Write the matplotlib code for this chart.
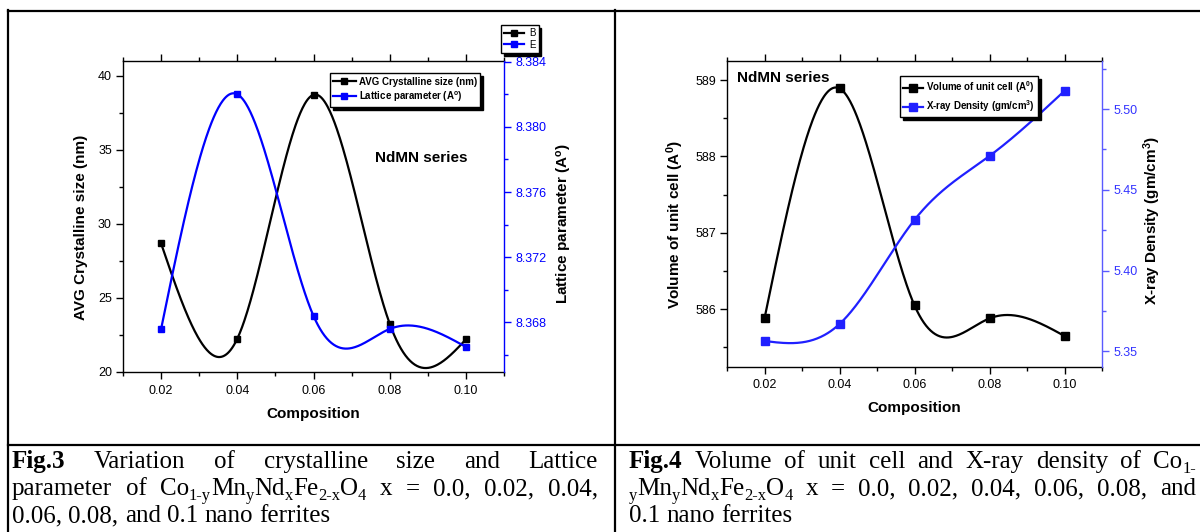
import numpy as np
import matplotlib
matplotlib.use('Agg')
import matplotlib.pyplot as plt
from matplotlib.lines import Line2D
from matplotlib.ticker import MultipleLocator, FormatStrFormatter, FixedLocator
from matplotlib.transforms import IdentityTransform

# ---------------- data ----------------
composition = [0.02, 0.04, 0.06, 0.08, 0.10]
xtick_labels = ['0.02', '0.04', '0.06', '0.08', '0.10']
crystallite_size = [28.68, 22.25, 38.72, 23.26, 22.20]        # nm
lattice_param = [8.3676, 8.3820, 8.3684, 8.3676, 8.3665]       # A
cell_volume = [585.88, 588.89, 586.05, 585.88, 585.65]         # A^3
xray_density = [5.3564, 5.3669, 5.4314, 5.4710, 5.5113]        # gm/cm3

plt.rcParams['font.family'] = 'Liberation Sans'
plt.rcParams['mathtext.fontset'] = 'custom'
plt.rcParams['mathtext.rm'] = 'Liberation Sans'
plt.rcParams['mathtext.bf'] = 'Liberation Sans:bold'
plt.rcParams['mathtext.it'] = 'Liberation Sans:italic'

W, H = 1200, 532
fig = plt.figure(figsize=(W / 100, H / 100), dpi=100)
fig.patch.set_facecolor('white')


def natural_spline(x, y, n=400):
    x = np.asarray(x, float)
    y = np.asarray(y, float)
    k = len(x)
    h = np.diff(x)
    A = np.zeros((k, k))
    r = np.zeros(k)
    A[0, 0] = A[-1, -1] = 1
    for i in range(1, k - 1):
        A[i, i - 1] = h[i - 1]
        A[i, i] = 2 * (h[i - 1] + h[i])
        A[i, i + 1] = h[i]
        r[i] = 6 * ((y[i + 1] - y[i]) / h[i] - (y[i] - y[i - 1]) / h[i - 1])
    M = np.linalg.solve(A, r)
    xs = np.linspace(x[0], x[-1], n)
    idx = np.clip(np.searchsorted(x, xs) - 1, 0, k - 2)
    x0, x1 = x[idx], x[idx + 1]
    hh = x1 - x0
    a = (x1 - xs) / hh
    b = (xs - x0) / hh
    ys = a * y[idx] + b * y[idx + 1] + ((a ** 3 - a) * M[idx] + (b ** 3 - b) * M[idx + 1]) * hh ** 2 / 6
    return xs, ys


def px_axes(x0, y0, x1, y1):
    return fig.add_axes([x0 / W, 1 - y1 / H, (x1 - x0) / W, (y1 - y0) / H])


def style_axes(ax, ax2, rcolor, rlabelcolor):
    for s in ['left', 'bottom', 'top']:
        ax.spines[s].set_linewidth(1.0)
        ax.spines[s].set_color('black')
    ax.spines['right'].set_visible(False)
    for s in ['left', 'bottom', 'top']:
        ax2.spines[s].set_visible(False)
    ax2.spines['right'].set_color(rcolor)
    ax2.spines['right'].set_linewidth(1.0)
    ax.set_xlim(0.01, 0.11)
    ax.xaxis.set_major_locator(FixedLocator(composition))
    ax.set_xticklabels(xtick_labels)
    ax.xaxis.set_minor_locator(MultipleLocator(0.01))
    ax.tick_params(axis='both', which='major', direction='out', length=5, width=1,
                   labelsize=9, pad=3, top=True, right=False)
    ax.tick_params(axis='both', which='minor', direction='out', length=3, width=1,
                   top=True, right=False)
    ax.tick_params(axis='x', which='both', pad=4)
    ax2.tick_params(axis='y', which='major', direction='out', length=5, width=1,
                    labelsize=9, pad=3, colors=rcolor, labelcolor=rlabelcolor)
    ax2.tick_params(axis='y', which='minor', direction='out', length=3, width=1, colors=rcolor)


lw = 1.6
blue1 = '#0000ff'

# ================= Left chart =================
ax = px_axes(123, 61, 504, 372)
ax2 = ax.twinx()
xs, ys = natural_spline(composition, crystallite_size)
ax.plot(xs, ys, color='black', lw=lw)
ax.plot(composition, crystallite_size, ls='none', marker='s', ms=5, color='black')
xs, ys = natural_spline(composition, lattice_param)
ax2.plot(xs, ys, color=blue1, lw=lw)
ax2.plot(composition, lattice_param, ls='none', marker='s', ms=5, color=blue1)

ax.set_ylim(20, 41.0)
ax.yaxis.set_major_locator(FixedLocator([20, 25, 30, 35, 40]))
ax.yaxis.set_minor_locator(MultipleLocator(2.5))
ax2.set_ylim(8.36496, 8.38404)
ax2.yaxis.set_major_locator(FixedLocator([8.368, 8.372, 8.376, 8.380, 8.384]))
ax2.yaxis.set_major_formatter(FormatStrFormatter('%.3f'))
ax2.yaxis.set_minor_locator(FixedLocator([8.366, 8.370, 8.374, 8.378, 8.382]))
style_axes(ax, ax2, blue1, blue1)

ax.set_xlabel('Composition', fontsize=11, fontweight='bold', va='center')
ax.xaxis.set_label_coords(0.5, -0.135)
ax.set_ylabel('AVG Crystalline size (nm)', fontsize=11, fontweight='bold', va='center')
ax.yaxis.set_label_coords(-0.11, 0.466)
ax2.set_ylabel(r'Lattice parameter (A$^{\mathbf{o}}$)', fontsize=11, fontweight='bold',
               va='center', rotation=90)
ax2.yaxis.set_label_coords(1.16, 0.476)

ax.text(0.782, 0.688, 'NdMN series', transform=ax.transAxes, fontsize=11,
        fontweight='bold', ha='center', va='center')

h_black = Line2D([], [], color='black', lw=lw, marker='s', ms=5)
h_blue = Line2D([], [], color=blue1, lw=lw, marker='s', ms=5)
shadow = {'color': 'black', 'alpha': 1}
leg = ax2.legend([h_black, h_blue],
                 ['AVG Crystalline size (nm)', r'Lattice parameter (A$^{\mathbf{o}}$)'],
                 loc='upper left', bbox_to_anchor=(0.543, 0.961), borderaxespad=0,
                 prop={'weight': 'bold', 'size': 7}, handlelength=2.3, handletextpad=0.3,
                 borderpad=0.35, labelspacing=0.3, fancybox=False, framealpha=1,
                 edgecolor='black', shadow=shadow)
leg.get_frame().set_linewidth(1.0)

leg2 = fig.legend([Line2D([], [], color='black', lw=lw, marker='s', ms=4),
                   Line2D([], [], color=blue1, lw=lw, marker='s', ms=4)], ['B', 'E'],
                  loc='upper left', bbox_to_anchor=(501 / W, 1 - 25 / H), borderaxespad=0,
                  prop={'size': 7}, handlelength=2.1, handletextpad=0.5, borderpad=0.3,
                  labelspacing=0.2, fancybox=False, framealpha=1, edgecolor='black',
                  shadow=shadow)
leg2.get_frame().set_linewidth(1.0)

# ================= Right chart =================
blue2 = '#2020ff'
rspine = '#5a5aff'
bx = px_axes(727, 61, 1102, 367)
bx2 = bx.twinx()
xs, ys = natural_spline(composition, cell_volume)
bx.plot(xs, ys, color='black', lw=lw)
bx.plot(composition, cell_volume, ls='none', marker='s', ms=6, color='black')
xs, ys = natural_spline(composition, xray_density)
bx2.plot(xs, ys, color=blue2, lw=lw)
bx2.plot(composition, xray_density, ls='none', marker='s', ms=6, color=blue2)

bx.set_ylim(585.244, 589.249)
bx.yaxis.set_major_locator(FixedLocator([586, 587, 588, 589]))
bx.yaxis.set_minor_locator(MultipleLocator(0.5))
bx2.set_ylim(5.3403, 5.5298)
bx2.yaxis.set_major_locator(FixedLocator([5.35, 5.40, 5.45, 5.50]))
bx2.yaxis.set_major_formatter(FormatStrFormatter('%.2f'))
bx2.yaxis.set_minor_locator(FixedLocator([5.375, 5.425, 5.475, 5.525]))
style_axes(bx, bx2, rspine, '#3333ff')

bx.set_xlabel('Composition', fontsize=11, fontweight='bold', va='center')
bx.xaxis.set_label_coords(0.5, -0.134)
bx.set_ylabel(r'Volume of unit cell (A$^{\mathbf{0}}$)', fontsize=11, fontweight='bold', va='center')
bx.yaxis.set_label_coords(-0.139, 0.464)
bx2.set_ylabel(r'X-ray Density (gm/cm$^{\mathbf{3}}$)', fontsize=11, fontweight='bold',
               va='center', rotation=90)
bx2.yaxis.set_label_coords(1.133, 0.477)

bx.text(0.149, 0.944, 'NdMN series', transform=bx.transAxes, fontsize=11,
        fontweight='bold', ha='center', va='center')

leg3 = bx2.legend([Line2D([], [], color='black', lw=lw, marker='s', ms=6),
                   Line2D([], [], color=blue2, lw=lw, marker='s', ms=6)],
                  [r'Volume of unit cell (A$^{\mathbf{0}}$)', r'X-ray Density (gm/cm$^{\mathbf{3}}$)'],
                  loc='upper left', bbox_to_anchor=(0.461, 0.951), borderaxespad=0,
                  prop={'weight': 'bold', 'size': 7}, handlelength=2.0, handletextpad=0.3,
                  borderpad=0.35, labelspacing=0.3, fancybox=False, framealpha=1,
                  edgecolor='black', shadow=shadow)
leg3.get_frame().set_linewidth(1.0)

# ================= table lines =================
def hline(y, x0, x1):
    fig.add_artist(Line2D([x0 / W, x1 / W], [1 - y / H, 1 - y / H], color='black', lw=1.6,
                          transform=fig.transFigure))


def vline(x, y0, y1):
    fig.add_artist(Line2D([x / W, x / W], [1 - y0 / H, 1 - y1 / H], color='black', lw=1.6,
                          transform=fig.transFigure))


hline(10.7, 7.6, 1200)
hline(445, 7.6, 1200)
vline(8.4, 10, 532)
vline(615, 10, 532)

# ================= captions =================
SIZE = 18
renderer = fig.canvas.get_renderer()
ident = IdentityTransform()


def draw_line(words, x0, x1, ybase, justify):
    size_px = SIZE * 100 / 72
    items = []
    widths = []
    for w in words:
        segs = []
        cur = 0.0
        for txt, kind in w:
            fs = SIZE * 0.66 if kind == 'sub' else SIZE
            t = fig.text(0, 0, txt, fontsize=fs, family='Liberation Serif',
                         fontweight='bold' if kind == 'bold' else 'normal',
                         ha='left', va='baseline', transform=ident)
            wd = t.get_window_extent(renderer).width
            segs.append((t, cur, kind))
            cur += wd
        items.append(segs)
        widths.append(cur)
    nat_space = 0.25 * size_px
    if justify and len(words) > 1:
        space = (x1 - x0 - sum(widths)) / (len(words) - 1)
    else:
        space = nat_space
    x = x0
    yd = H - ybase
    for segs, wd in zip(items, widths):
        for t, off, kind in segs:
            dy = -0.2 * size_px if kind == 'sub' else 0
            t.set_position((x + off, yd + dy))
        x += wd + space


n = 'n'
chem_full = [('Co', n), ('1-y', 'sub'), ('Mn', n), ('y', 'sub'), ('Nd', n), ('x', 'sub'),
             ('Fe', n), ('2-x', 'sub'), ('O', n), ('4', 'sub')]
chem_tail = [('y', 'sub'), ('Mn', n), ('y', 'sub'), ('Nd', n), ('x', 'sub'),
             ('Fe', n), ('2-x', 'sub'), ('O', n), ('4', 'sub')]


def plain(s):
    return [[(w, n)] for w in s.split()]


left_lines = [
    ([[('Fig.3', 'bold')]] + plain('Variation of crystalline size and Lattice'), True),
    (plain('parameter of') + [chem_full] + plain('x = 0.0, 0.02, 0.04,'), True),
    (plain('0.06, 0.08, and 0.1 nano ferrites'), False),
]
right_lines = [
    ([[('Fig.4', 'bold')]] + plain('Volume of unit cell and X-ray density of') +
     [[('Co', n), ('1-', 'sub')]], True),
    ([chem_tail] + plain('x = 0.0, 0.02, 0.04, 0.06, 0.08, and'), True),
    (plain('0.1 nano ferrites'), False),
]
baselines = [468, 495, 522]
for (words, just), yb in zip(left_lines, baselines):
    draw_line(words, 12, 598, yb, just)
for (words, just), yb in zip(right_lines, baselines):
    draw_line(words, 629, 1196, yb, just)

fig.savefig('out.png', dpi=100, facecolor='white')
